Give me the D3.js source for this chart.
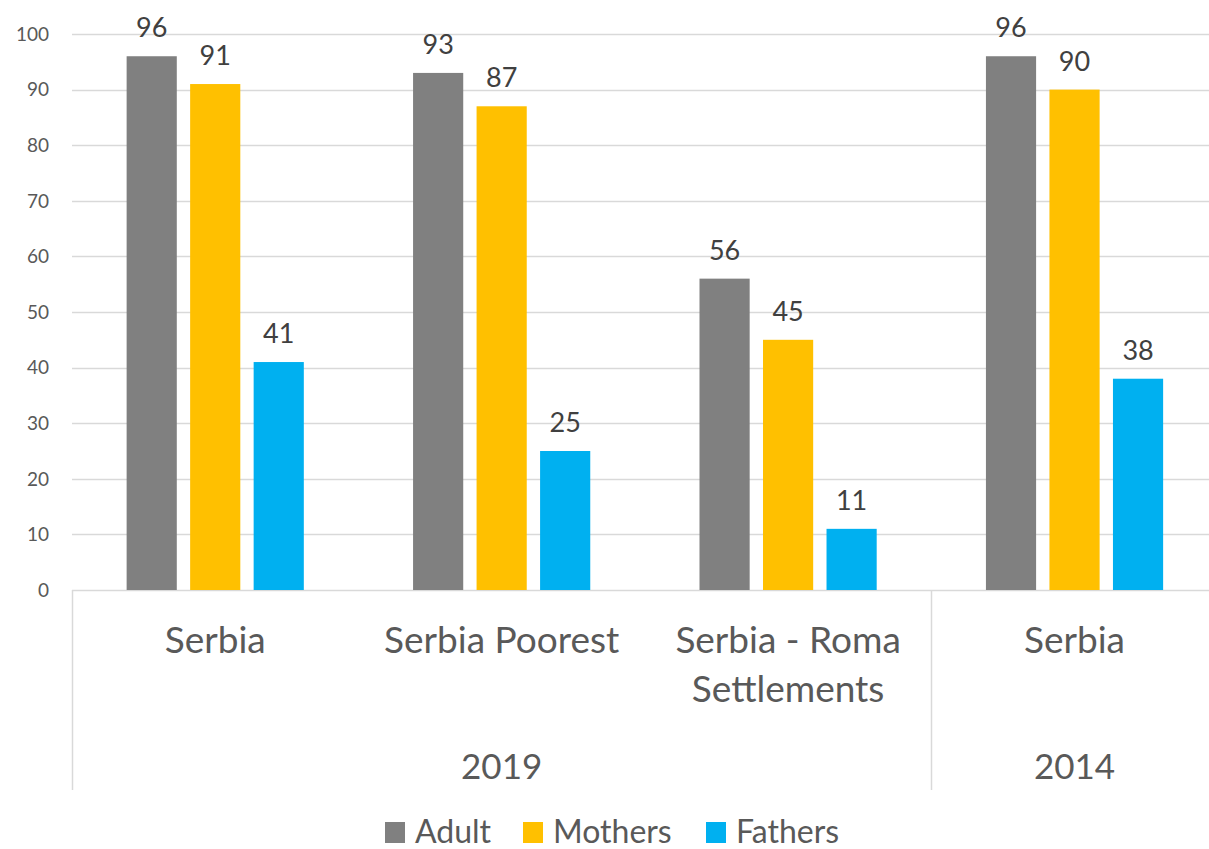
<!DOCTYPE html>
<html>
<head>
<meta charset="utf-8">
<script src="https://cdn.jsdelivr.net/npm/d3@7"></script>
<style>
  body { margin: 0; background: #fff; }
  svg { display: block; font-family: Lato, "Open Sans", sans-serif; }
</style>
</head>
<body>
<div id="chart"></div>
<script>
var width = 1209, height = 849;

// data
var categories = ["Serbia", "Serbia Poorest", "Serbia - Roma Settlements", "Serbia"];
var categoryLines = [["Serbia"], ["Serbia Poorest"], ["Serbia - Roma", "Settlements"], ["Serbia"]];
var years = ["2019", "2019", "2019", "2014"];
var seriesNames = ["Adult", "Mothers", "Fathers"];
var adult   = [96, 93, 56, 96];
var mothers = [91, 87, 45, 90];
var fathers = [41, 25, 11, 38];
var yTicks  = [0, 10, 20, 30, 40, 50, 60, 70, 80, 90, 100];

var colors = ["#808080", "#FFC000", "#00B0F0"];
var textColor = "#595959";
var gridColor = "#d9d9d9";

var values = [adult, mothers, fathers];
var rows = categories.map(function(c, i) {
    return { key: i, cat: c, year: years[i], vals: values.map(function(v) { return v[i]; }) };
});

var plotLeft = 72, plotRight = 1217.75, plotTop = 34, plotBottom = 590;

var x0 = d3.scaleBand()
    .domain(rows.map(function(d) { return d.key; }))
    .range([plotLeft, plotRight])
    .paddingInner(0)
    .paddingOuter(0);

var x1 = d3.scaleBand()
    .domain(seriesNames)
    .range([0, x0.bandwidth()])
    .paddingInner(0.21)
    .paddingOuter(0.86);

var y = d3.scaleLinear().domain([0, 100]).range([plotBottom, plotTop]);

var svg = d3.select("#chart").append("svg")
    .attr("width", width)
    .attr("height", height);

// gridlines
svg.append("g").selectAll("line")
    .data(yTicks)
    .enter().append("line")
    .attr("x1", plotLeft)
    .attr("x2", plotRight)
    .attr("y1", function(d) { return Math.round(y(d)) + 0.5; })
    .attr("y2", function(d) { return Math.round(y(d)) + 0.5; })
    .attr("stroke", gridColor)
    .attr("stroke-width", 1.5);

// y tick labels
svg.append("g").selectAll("text")
    .data(yTicks)
    .enter().append("text")
    .attr("x", 49)
    .attr("y", function(d) { return y(d); })
    .attr("dy", "0.36em")
    .attr("text-anchor", "end")
    .attr("fill", textColor)
    .style("font-size", "19px")
    .text(function(d) { return d; });

// group separators under the axis
var yearGroups = [];
rows.forEach(function(r) {
    var last = yearGroups[yearGroups.length - 1];
    if (last && last.year === r.year) last.keys.push(r.key);
    else yearGroups.push({ year: r.year, keys: [r.key] });
});
var sepX = [plotLeft].concat(yearGroups.map(function(g) {
    return x0(g.keys[g.keys.length - 1]) + x0.bandwidth();
}));
svg.append("g").selectAll("line")
    .data(sepX)
    .enter().append("line")
    .attr("x1", function(d) { return Math.round(d) + 0.5; })
    .attr("x2", function(d) { return Math.round(d) + 0.5; })
    .attr("y1", plotBottom)
    .attr("y2", 790)
    .attr("stroke", gridColor)
    .attr("stroke-width", 1.5);

// bars
var groups = svg.append("g").selectAll("g")
    .data(rows)
    .enter().append("g")
    .attr("transform", function(d) { return "translate(" + x0(d.key) + ",0)"; });

groups.selectAll("rect")
    .data(function(d) { return d.vals.map(function(v, i) { return { name: seriesNames[i], value: v, i: i }; }); })
    .enter().append("rect")
    .attr("x", function(d) { return x1(d.name); })
    .attr("width", x1.bandwidth())
    .attr("y", function(d) { return y(d.value); })
    .attr("height", function(d) { return y(0) - y(d.value); })
    .attr("fill", function(d) { return colors[d.i]; });

groups.selectAll("text.val")
    .data(function(d) { return d.vals.map(function(v, i) { return { name: seriesNames[i], value: v }; }); })
    .enter().append("text")
    .attr("class", "val")
    .attr("x", function(d) { return x1(d.name) + x1.bandwidth() / 2; })
    .attr("y", function(d) { return y(d.value) - 19; })
    .attr("text-anchor", "middle")
    .attr("fill", "#404040")
    .style("font-size", "27px")
    .text(function(d) { return d.value; });

// category labels
var catLabels = svg.append("g").selectAll("text")
    .data(rows)
    .enter().append("text")
    .attr("text-anchor", "middle")
    .attr("fill", textColor)
    .style("font-size", "37px");

catLabels.selectAll("tspan")
    .data(function(d) { return categoryLines[d.key].map(function(t) { return { t: t, x: x0(d.key) + x0.bandwidth() / 2 }; }); })
    .enter().append("tspan")
    .attr("x", function(d) { return d.x; })
    .attr("y", function(d, i) { return 653 + i * 49; })
    .text(function(d) { return d.t; });

// year labels
svg.append("g").selectAll("text")
    .data(yearGroups)
    .enter().append("text")
    .attr("x", function(d) {
        return (x0(d.keys[0]) + x0(d.keys[d.keys.length - 1]) + x0.bandwidth()) / 2;
    })
    .attr("y", 779)
    .attr("text-anchor", "middle")
    .attr("fill", textColor)
    .style("font-size", "35px")
    .text(function(d) { return d.year; });

// legend
var legendX = [385, 523, 706];
var legend = svg.append("g").selectAll("g")
    .data(seriesNames)
    .enter().append("g")
    .attr("transform", function(d, i) { return "translate(" + legendX[i] + ",822)"; });

legend.append("rect")
    .attr("width", 20)
    .attr("height", 21)
    .attr("fill", function(d, i) { return colors[i]; });

legend.append("text")
    .attr("x", 30)
    .attr("y", 21)
    .attr("fill", textColor)
    .style("font-size", "32px")
    .text(function(d) { return d; });
</script>
</body>
</html>
